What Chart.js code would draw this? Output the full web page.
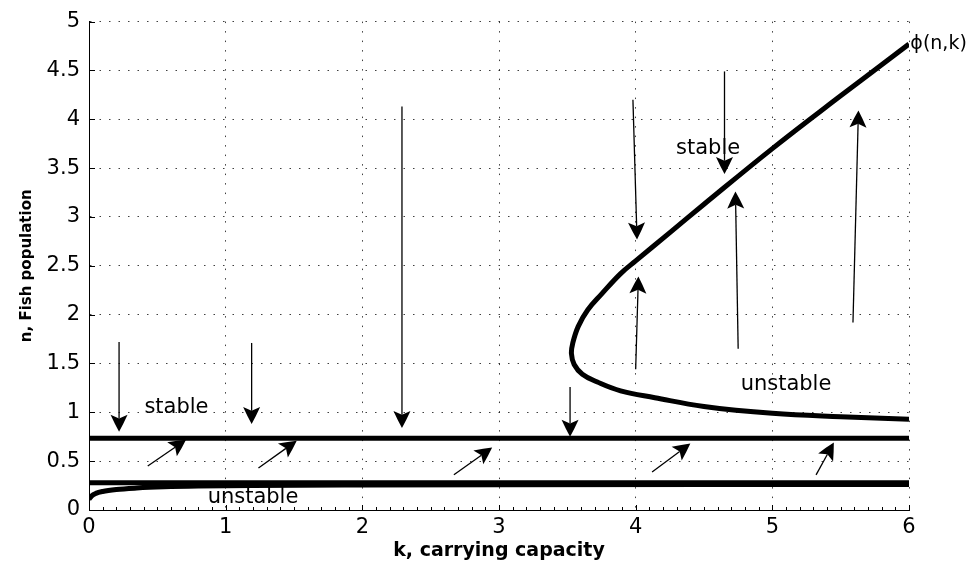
<!DOCTYPE html>
<html>
<head>
<meta charset="utf-8">
<script src="https://cdn.jsdelivr.net/npm/chart.js@4.4.1/dist/chart.umd.min.js"></script>
<style>
html, body { margin: 0; padding: 0; background: #fff; }
#wrap { width: 974px; height: 562px; position: relative; }
</style>
</head>
<body>
<div id="wrap"><canvas id="chart"></canvas></div>
<script>
// axis ticks
const kTicks = [0, 1, 2, 3, 4, 5, 6];
const nTicks = [0, 0.5, 1, 1.5, 2, 2.5, 3, 3.5, 4, 4.5, 5];

// the two flat equilibria
const flatK = [0, 6];
const stableN = [0.735, 0.735];
const unstableN = [0.28, 0.28];

// small curve rising from the origin
const lowK = [0, 0.02, 0.05, 0.1, 0.2, 0.35, 0.55, 0.8, 1.2, 2, 3, 4.5, 6];
const lowN = [0.11, 0.145, 0.17, 0.19, 0.21, 0.225, 0.237, 0.245, 0.251, 0.256, 0.259, 0.261, 0.262];

// fold curve phi(n,k), lower branch -> turning point -> upper branch
const foldK = [6.0, 5.5, 5.0, 4.5, 4.14, 3.89, 3.72, 3.61, 3.55, 3.53, 3.54, 3.58, 3.65, 3.75, 3.89, 4.0, 4.25, 4.5, 5.0, 5.5, 6.0];
const foldN = [0.93, 0.955, 0.99, 1.06, 1.15, 1.22, 1.31, 1.39, 1.49, 1.6, 1.71, 1.88, 2.05, 2.21, 2.42, 2.55, 2.84, 3.13, 3.70, 4.24, 4.77];

// flow arrows: start (k0, n0) -> tip (k1, n1)
const arrowK0 = [0.22, 1.19, 2.29, 3.52, 3.98, 4.65, 4.00, 4.75, 5.59, 0.43, 1.24, 2.67, 4.12, 5.32];
const arrowN0 = [1.72, 1.71, 4.13, 1.26, 4.20, 4.49, 1.44, 1.65, 1.92, 0.45, 0.43, 0.36, 0.39, 0.36];
const arrowK1 = [0.22, 1.19, 2.29, 3.52, 4.01, 4.65, 4.02, 4.73, 5.63, 0.71, 1.52, 2.95, 4.40, 5.45];
const arrowN1 = [0.80, 0.88, 0.84, 0.75, 2.77, 3.44, 2.39, 3.26, 4.09, 0.72, 0.71, 0.64, 0.68, 0.69];

// text notes
const noteText = ['stable', 'unstable', 'stable', 'unstable', 'ϕ(n,k)'];
const noteK = [0.64, 1.20, 4.53, 5.10, 6.01];
const noteN = [1.05, 0.13, 3.70, 1.28, 4.77];

const FONT = "'DejaVu Sans', sans-serif";

function pts(xs, ys) {
    return xs.map((x, i) => ({ x, y: ys[i] }));
}

function curve(xs, ys, extra) {
    return Object.assign({
        data: pts(xs, ys),
        showLine: true,
        borderColor: '#000',
        borderWidth: 5,
        borderJoinStyle: 'round',
        pointRadius: 0,
        fill: false,
        tension: 0,
    }, extra || {});
}

const overlay = {
    id: 'overlay',
    afterDatasetsDraw(chart) {
        const { ctx, chartArea } = chart;
        const xs = chart.scales.x;
        const ys = chart.scales.y;

        // inward tick marks
        ctx.save();
        ctx.strokeStyle = '#000';
        ctx.lineWidth = 1;
        ctx.beginPath();
        for (let i = 0; i <= 60; i++) {
            const px = Math.round(xs.getPixelForValue(i / 10)) + 0.5;
            const len = i % 10 === 0 ? 5 : 3;
            ctx.moveTo(px, chartArea.bottom);
            ctx.lineTo(px, chartArea.bottom - len);
        }
        nTicks.forEach((v) => {
            const py = Math.round(ys.getPixelForValue(v)) + 0.5;
            ctx.moveTo(chartArea.left, py);
            ctx.lineTo(chartArea.left + 6, py);
        });
        ctx.stroke();
        ctx.restore();

        // arrows
        ctx.save();
        ctx.fillStyle = '#000';
        ctx.strokeStyle = '#000';
        for (let i = 0; i < arrowK0.length; i++) {
            const x0 = xs.getPixelForValue(arrowK0[i]);
            const y0 = ys.getPixelForValue(arrowN0[i]);
            const x1 = xs.getPixelForValue(arrowK1[i]);
            const y1 = ys.getPixelForValue(arrowN1[i]);
            const len = Math.hypot(x1 - x0, y1 - y0);
            const dx = (x1 - x0) / len;
            const dy = (y1 - y0) / len;
            const nx = -dy;
            const ny = dx;
            const L = 17;
            const W = 8.5;
            const notch = L * 0.78;
            ctx.lineWidth = 1.3;
            ctx.beginPath();
            ctx.moveTo(x0, y0);
            ctx.lineTo(x1 - dx * notch, y1 - dy * notch);
            ctx.stroke();
            ctx.beginPath();
            ctx.moveTo(x1, y1);
            ctx.quadraticCurveTo(x1 - dx * L * 0.45 + nx * W * 0.5, y1 - dy * L * 0.45 + ny * W * 0.5,
                x1 - dx * L + nx * W, y1 - dy * L + ny * W);
            ctx.lineTo(x1 - dx * notch, y1 - dy * notch);
            ctx.lineTo(x1 - dx * L - nx * W, y1 - dy * L - ny * W);
            ctx.quadraticCurveTo(x1 - dx * L * 0.45 - nx * W * 0.5, y1 - dy * L * 0.45 - ny * W * 0.5, x1, y1);
            ctx.closePath();
            ctx.fill();
        }
        ctx.restore();

        // notes
        ctx.save();
        ctx.fillStyle = '#000';
        ctx.textBaseline = 'middle';
        for (let i = 0; i < noteText.length; i++) {
            const last = i === noteText.length - 1;
            ctx.font = (last ? '19px ' : '21px ') + FONT;
            ctx.textAlign = last ? 'left' : 'center';
            ctx.fillText(noteText[i], xs.getPixelForValue(noteK[i]), ys.getPixelForValue(noteN[i]));
        }
        ctx.restore();
    },
};

new Chart(document.getElementById('chart'), {
    type: 'scatter',
    data: {
        datasets: [
            curve(flatK, stableN),
            curve(flatK, unstableN),
            curve(lowK, lowN, { cubicInterpolationMode: 'monotone' }),
            curve(foldK, foldN, { tension: 0.4 }),
        ],
    },
    options: {
        responsive: true,
        maintainAspectRatio: false,
        animation: false,
        layout: { padding: { top: 14, right: 65, left: 0, bottom: 0 } },
        plugins: {
            legend: { display: false },
            tooltip: { enabled: false },
            title: { display: false },
        },
        scales: {
            x: {
                type: 'linear',
                min: 0,
                max: 6,
                afterBuildTicks: (s) => { s.ticks = kTicks.map((v) => ({ value: v })); },
                afterFit: (s) => { s.height = 52; },
                grid: {
                    color: 'rgba(0,0,0,0.75)',
                    lineWidth: 1,
                    drawTicks: false,
                },
                border: { display: true, color: '#000', width: 1, dash: [1.5, 8] },
                ticks: {
                    color: '#000',
                    padding: 5,
                    maxRotation: 0,
                    autoSkip: false,
                    callback: (v) => String(v),
                    font: { family: FONT, size: 21 },
                },
                title: {
                    display: true,
                    text: 'k, carrying capacity',
                    color: '#000',
                    padding: { top: 0, bottom: 0 },
                    font: { family: FONT, size: 19, weight: 'bold' },
                },
            },
            y: {
                type: 'linear',
                min: 0,
                max: 5,
                afterBuildTicks: (s) => { s.ticks = nTicks.map((v) => ({ value: v })); },
                afterFit: (s) => { s.width = 89; },
                grid: {
                    color: 'rgba(0,0,0,0.75)',
                    lineWidth: 1,
                    drawTicks: false,
                },
                border: { display: true, color: '#000', width: 1, dash: [1.5, 8] },
                ticks: {
                    color: '#000',
                    padding: 9,
                    autoSkip: false,
                    callback: (v) => String(v),
                    font: { family: FONT, size: 21 },
                },
                title: {
                    display: true,
                    text: 'n, Fish population',
                    color: '#000',
                    padding: { top: 18, bottom: 0 },
                    font: { family: FONT, size: 15, weight: 'bold' },
                },
            },
        },
    },
    plugins: [overlay],
});
</script>
</body>
</html>
